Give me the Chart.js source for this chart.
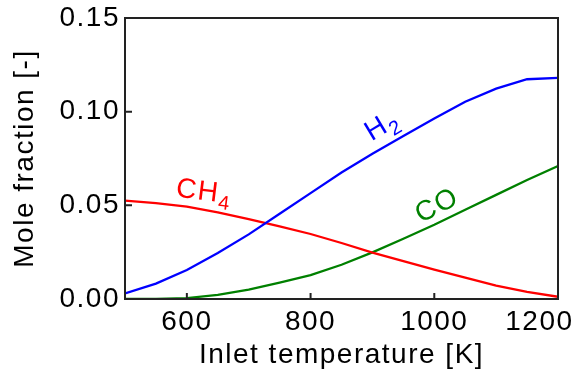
<!DOCTYPE html>
<html><head><meta charset="utf-8">
<script src="https://cdn.jsdelivr.net/npm/chart.js@4"></script>
<style>html,body{margin:0;padding:0;background:#fff;} #wrap{width:579px;height:374px;position:relative;}</style>
</head><body><div id="wrap"><canvas id="c"></canvas></div>
<script>
const temperatures = [500,550,600,650,700,750,800,850,900,950,1000,1050,1100,1150,1200];
const h2Values  = [0.003,0.0082,0.0155,0.0245,0.0345,0.0455,0.0565,0.0675,0.0775,0.087,0.0963,0.1053,0.1123,0.1173,0.118];
const ch4Values = [0.0525,0.0512,0.0493,0.0462,0.0427,0.0388,0.0347,0.0299,0.0248,0.0202,0.0157,0.0114,0.0072,0.0038,0.0012];
const coValues  = [0,0.0001,0.0005,0.0022,0.0050,0.0088,0.0127,0.0183,0.0249,0.0322,0.0396,0.0476,0.0556,0.0635,0.0710];
const xTickValues = [600,800,1000,1200];
const yTickValues = [0,0.05,0.10,0.15];

const FONT = '"Liberation Sans", Arial, Helvetica, sans-serif';
const seriesLabels = [
  {main:'H', sub:'2', x:914, y:0.0934, angle:-31, color:'#0000ff'},
  {main:'CH', sub:'4', x:628, y:0.0582, angle:7, color:'#ff0000'},
  {main:'CO', sub:'', x:1003, y:0.0507, angle:-27, color:'#008000'}
];

const toPts = vals => temperatures.map((t,i)=>({x:t, y:vals[i]}));

const frame = {
  id:'frame',
  beforeDraw(chart){ chart.ctx.letterSpacing = '1.5px'; },
  afterDraw(chart){
    const {ctx, chartArea:a, scales:{x, y}} = chart;
    ctx.save();
    ctx.strokeStyle = '#222'; ctx.lineWidth = 2;
    ctx.strokeRect(a.left, a.top, a.right - a.left, a.bottom - a.top);
    ctx.beginPath();
    x.ticks.forEach(t => { const px = x.getPixelForValue(t.value); if (px > a.left + 2 && px < a.right - 2) { ctx.moveTo(px, a.bottom); ctx.lineTo(px, a.bottom - 6); } });
    y.ticks.forEach(t => { const py = y.getPixelForValue(t.value); if (py > a.top + 2 && py < a.bottom - 2) { ctx.moveTo(a.left, py); ctx.lineTo(a.left + 7, py); } });
    ctx.stroke();
    seriesLabels.forEach(l => {
      const px = x.getPixelForValue(l.x), py = y.getPixelForValue(l.y);
      ctx.save();
      ctx.translate(px, py); ctx.rotate(l.angle * Math.PI / 180);
      ctx.fillStyle = l.color; ctx.textAlign = 'left'; ctx.textBaseline = 'alphabetic';
      ctx.font = '28px ' + FONT; const w1 = ctx.measureText(l.main).width;
      ctx.font = '20px ' + FONT; const w2 = l.sub ? ctx.measureText(l.sub).width : 0;
      const start = -(w1 + w2) / 2;
      ctx.font = '28px ' + FONT; ctx.fillText(l.main, start, 10);
      if (l.sub) { ctx.font = '20px ' + FONT; ctx.fillText(l.sub, start + w1, 17); }
      ctx.restore();
    });
    ctx.restore();
  }
};

new Chart(document.getElementById('c'), {
  type: 'line',
  data: { datasets: [
    {label:'H2', data: toPts(h2Values), borderColor:'#0000ff'},
    {label:'CH4', data: toPts(ch4Values), borderColor:'#ff0000'},
    {label:'CO', data: toPts(coValues), borderColor:'#008000'}
  ]},
  options: {
    responsive: true, maintainAspectRatio: false, animation: false, devicePixelRatio: 1,
    layout: { padding: { top: 18, right: 21, left: 0, bottom: 0 } },
    plugins: { legend: { display: false }, tooltip: { enabled: false } },
    elements: { point: { radius: 0 }, line: { tension: 0, borderWidth: 2.3, fill: false } },
    scales: {
      x: {
        type: 'linear', min: 500, max: 1200,
        afterBuildTicks(s){ s.ticks = xTickValues.map(v => ({value: v})); },
        afterFit(s){ s.height = 75; s.paddingLeft = 0; s.paddingRight = 0; },
        grid: { display: false, drawTicks: false, tickLength: 0 },
        border: { display: false },
        ticks: { padding: 6, color: '#000', maxRotation: 0, autoSkip: false,
          font: { family: FONT, size: 28, lineHeight: 1.2 },
          callback: v => v === 1200 ? '1200    ' : String(v) },
        title: { display: true, text: 'Inlet temperature [K]', color: '#000',
          font: { family: FONT, size: 28, lineHeight: 1.2 }, padding: { top: 0, bottom: 2 } }
      },
      y: {
        type: 'linear', min: 0, max: 0.15,
        afterBuildTicks(s){ s.ticks = yTickValues.map(v => ({value: v})); },
        afterFit(s){ s.width = 125; s.paddingTop = 0; s.paddingBottom = 0; },
        grid: { display: false, drawTicks: false, tickLength: 0 },
        border: { display: false },
        ticks: { padding: 5, color: '#000', font: { family: FONT, size: 28, lineHeight: 1.2 },
          callback: v => Number(v).toFixed(2) },
        title: { display: true, text: 'Mole fraction [-]', color: '#000',
          font: { family: FONT, size: 28, lineHeight: 1.2 }, padding: { top: 8, bottom: 0 } }
      }
    }
  },
  plugins: [frame]
});
</script>
</body></html>
